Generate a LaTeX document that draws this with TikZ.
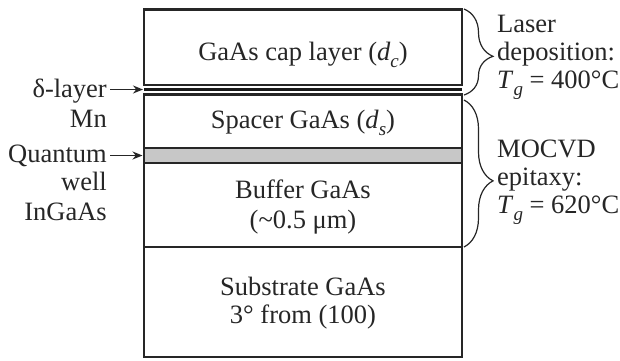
\documentclass[tikz,border=0pt]{standalone}
\usepackage{fontspec}
\setmainfont{Liberation Serif}
\usetikzlibrary{decorations.pathreplacing,arrows.meta}
\newcommand{\subit}[2]{\textit{#1}\raisebox{-0.28em}{\fontsize{19}{19}\selectfont\textit{#2}}}
\begin{document}
\begin{tikzpicture}[x=1pt,y=-1pt,
  txt/.style={font=\fontsize{26.5}{28}\selectfont, inner sep=0pt, text=black!85},
  layerbox/.style={draw=black!85, line width=2.4pt, minimum width=318pt, inner sep=0pt, outer sep=0pt, anchor=north west},
  arr/.style={-{Stealth[length=10pt,width=8pt]}, line width=1.3pt, draw=black!85},
  brc/.style={decorate, decoration={brace, amplitude=29pt, aspect=0.55}, line width=1.2pt, draw=black!85}]
\useasboundingbox (0,0) rectangle (620,360);
\fill[white] (0,0) rectangle (620,360);
% layers
\node[layerbox, minimum height=75.5pt] (cap) at (144,9.5) {};
\node[layerbox, minimum height=53.5pt] (spacer) at (144,94.5) {};
\node[layerbox, minimum height=15pt, fill=black!22] (qw) at (144,148) {};
\node[layerbox, minimum height=84pt] (buffer) at (144,163) {};
\node[layerbox, minimum height=110pt] (substrate) at (144,247) {};
% delta layer lines
\draw[line width=1pt, draw=black!85] (144,85) -- (462,85);
\draw[line width=2.8pt, draw=black!90] (144,89.5) -- (462,89.5);
\coordinate (dlt) at (143,89.5);
% texts in layers
\node[txt, anchor=base] at (303,60) {GaAs cap layer (\subit{d}{c})};
\node[txt, anchor=base] at (303,128) {Spacer GaAs (\subit{d}{s})};
\node[txt, anchor=base] at (303,198) {Buffer GaAs};
\node[txt, anchor=base] at (303,228) {(\textasciitilde 0.5 μm)};
\node[txt, anchor=base] at (303,295) {Substrate GaAs};
\node[txt, anchor=base] at (303,323) {3° from (100)};
% left labels
\node[txt, anchor=base east] (dl) at (107,97) {δ-layer};
\node[txt, anchor=base east] (mn) at (107,127) {Mn};
\node[txt, anchor=base east] (qwl) at (107,162) {Quantum};
\node[txt, anchor=base east] (well) at (107,190) {well};
\node[txt, anchor=base east] (inga) at (107,220) {InGaAs};
\draw[arr] ([xshift=3pt]dl.base east |- dlt) -- (dlt);
\draw[arr] ([xshift=3pt]qwl.base east |- qw.west) -- ([xshift=-1.5pt]qw.west);
% braces
\draw[brc] (464,9) -- (464,95);
\draw[brc] (464,100) -- (464,247);
% right labels
\node[txt, anchor=base west] at (497,32) {Laser};
\node[txt, anchor=base west] at (497,60) {deposition:};
\node[txt, anchor=base west] at (497,88) {\subit{T}{g} = 400°C};
\node[txt, anchor=base west] at (497,157) {MOCVD};
\node[txt, anchor=base west] at (497,185) {epitaxy:};
\node[txt, anchor=base west] at (497,213) {\subit{T}{g} = 620°C};
\end{tikzpicture}
\end{document}
